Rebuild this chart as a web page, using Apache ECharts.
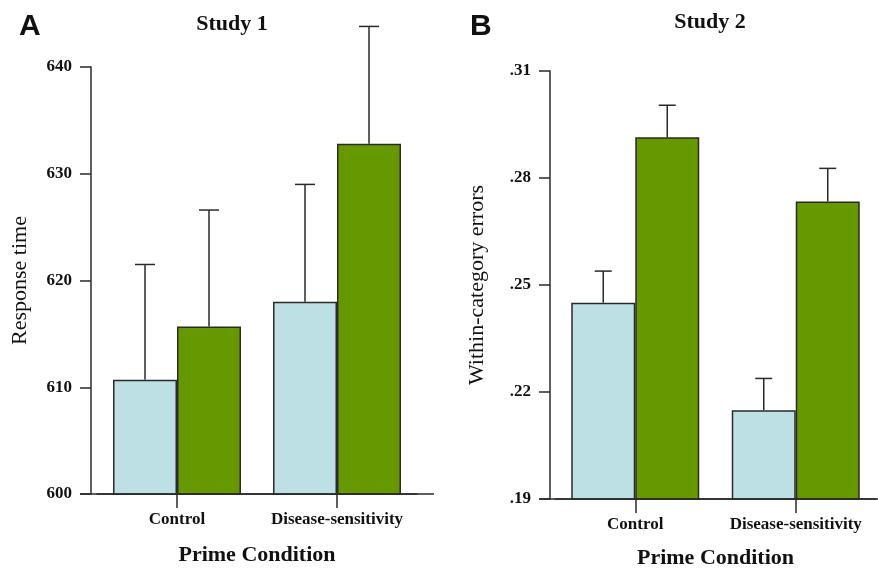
<!DOCTYPE html>
<html>
<head>
<meta charset="utf-8">
<script src="https://cdn.jsdelivr.net/npm/echarts@6/dist/echarts.min.js"></script>
<style>html,body{margin:0;padding:0;background:#fff;}#main{width:878px;height:568px;}</style>
</head>
<body>
<div id="main"></div>
<script>
// ---- data ----
const categories = ['Control', 'Disease-sensitivity'];
// Study 1: response time
const study1Light = [610.7, 618.0];
const study1Green = [615.7, 632.8];
const study1LightErr = [621.5, 629.0];
const study1GreenErr = [626.6, 643.8];
const study1Ticks = [600, 610, 620, 630, 640];
// Study 2: within-category errors
const study2Light = [0.245, 0.2149];
const study2Green = [0.2914, 0.2734];
const study2LightErr = [0.2539, 0.2238];
const study2GreenErr = [0.3004, 0.2827];
const study2Ticks = [0.19, 0.22, 0.25, 0.28, 0.31];

const LIGHT = '#bde0e4';
const GREEN = '#669900';
const EDGE = '#2a2a2a';
const SERIF = '"Liberation Serif","DejaVu Serif",serif';
const BAR_W = 64;

function errItem(offset, cap) {
  return function (params, api) {
    const c = api.value(0);
    const top = api.coord([c, api.value(2)]);
    const base = api.coord([c, api.value(1)]);
    const x = top[0] + offset;
    return {
      type: 'group',
      children: [
        {type: 'line', shape: {x1: x, y1: base[1], x2: x, y2: top[1]}, style: {stroke: EDGE, lineWidth: 1.5}},
        {type: 'line', shape: {x1: x - cap / 2, y1: top[1], x2: x + cap / 2, y2: top[1]}, style: {stroke: EDGE, lineWidth: 1.5}}
      ]
    };
  };
}
function errData(vals, errs) {
  return vals.map((v, i) => [i, v, errs[i]]);
}

function xAxisCfg(gi, labelMargin, nameGap) {
  return {
    type: 'category', gridIndex: gi, data: categories,
    axisLine: {lineStyle: {color: EDGE, width: 1.5}},
    axisTick: {show: true, interval: 0, alignWithLabel: true, length: 14, lineStyle: {color: EDGE, width: 1.5}},
    axisLabel: {interval: 0, hideOverlap: false, margin: labelMargin, color: '#111', fontFamily: SERIF, fontWeight: 'bold', fontSize: 17},
    name: 'Prime Condition', nameLocation: 'middle', nameGap: nameGap,
    nameTextStyle: {color: '#111', fontFamily: SERIF, fontWeight: 'bold', fontSize: 22}
  };
}
function yAxisCfg(gi, ticks, name, offset, nameGap, fmt) {
  return {
    type: 'value', gridIndex: gi, min: ticks[0], max: ticks[ticks.length - 1],
    interval: +(ticks[1] - ticks[0]).toFixed(4), offset: offset,
    splitLine: {show: false},
    axisLine: {show: true, lineStyle: {color: EDGE, width: 1.5}},
    axisTick: {show: true, length: 11, lineStyle: {color: EDGE, width: 1.5}},
    axisLabel: {margin: 19, color: '#111', fontFamily: SERIF, fontWeight: 'bold', fontSize: 17, formatter: fmt},
    name: name, nameLocation: 'middle', nameGap: nameGap,
    nameTextStyle: {color: '#111', fontFamily: SERIF, fontSize: 22}
  };
}
function barSeries(gi, data, color) {
  return {
    type: 'bar', xAxisIndex: gi, yAxisIndex: gi, data: data, barWidth: BAR_W, barGap: '0%',
    itemStyle: {color: color, borderColor: EDGE, borderWidth: 1.5}, z: 2
  };
}
function errSeries(gi, vals, errs, offset, cap) {
  return {
    type: 'custom', xAxisIndex: gi, yAxisIndex: gi, clip: false, z: 3,
    renderItem: errItem(offset, cap), data: errData(vals, errs)
  };
}

const chart = echarts.init(document.getElementById('main'));
const option = {
  backgroundColor: '#fff',
  animation: false,
  title: [
    {text: 'A', left: 14, top: 7, textStyle: {fontFamily: '"Liberation Sans",Arial,sans-serif', fontWeight: 'bold', fontSize: 30, color: '#111'}},
    {text: 'Study 1', left: 227, textAlign: 'center', top: 8, textStyle: {fontFamily: SERIF, fontWeight: 'bold', fontSize: 22, color: '#111'}},
    {text: 'B', left: 465, top: 7, textStyle: {fontFamily: '"Liberation Sans",Arial,sans-serif', fontWeight: 'bold', fontSize: 30, color: '#111'}},
    {text: 'Study 2', left: 705, textAlign: 'center', top: 6, textStyle: {fontFamily: SERIF, fontWeight: 'bold', fontSize: 22, color: '#111'}}
  ],
  grid: [
    {left: 97, width: 320, top: 67, bottom: 74, outerBoundsMode: 'none', containLabel: false},
    {left: 555, width: 321, top: 71, bottom: 69, outerBoundsMode: 'none', containLabel: false}
  ],
  xAxis: [xAxisCfg(0, 17, 50), xAxisCfg(1, 17, 48)],
  yAxis: [
    yAxisCfg(0, study1Ticks, 'Response time', 6, 60, v => String(v)),
    yAxisCfg(1, study2Ticks, 'Within-category errors', 5, 62, v => String(+v.toFixed(2)).replace(/^0/, ''))
  ],
  series: [
    barSeries(0, study1Light, LIGHT),
    barSeries(0, study1Green, GREEN),
    errSeries(0, study1Light, study1LightErr, -BAR_W / 2, 20),
    errSeries(0, study1Green, study1GreenErr, BAR_W / 2, 20),
    barSeries(1, study2Light, LIGHT),
    barSeries(1, study2Green, GREEN),
    errSeries(1, study2Light, study2LightErr, -BAR_W / 2, 17),
    errSeries(1, study2Green, study2GreenErr, BAR_W / 2, 17)
  ]
};
chart.setOption(option);

// extend the x axis baselines (decoration only)
const y0 = chart.convertToPixel({yAxisIndex: 0}, study1Ticks[0]);
const y1 = chart.convertToPixel({yAxisIndex: 1}, study2Ticks[0]);
chart.setOption({
  graphic: [
    {type: 'line', shape: {x1: 80, y1: y0, x2: 434, y2: y0}, style: {stroke: EDGE, lineWidth: 1.5}, z: 10},
    {type: 'line', shape: {x1: 539, y1: y1, x2: 878, y2: y1}, style: {stroke: EDGE, lineWidth: 1.5}, z: 10}
  ]
});
</script>
</body>
</html>
